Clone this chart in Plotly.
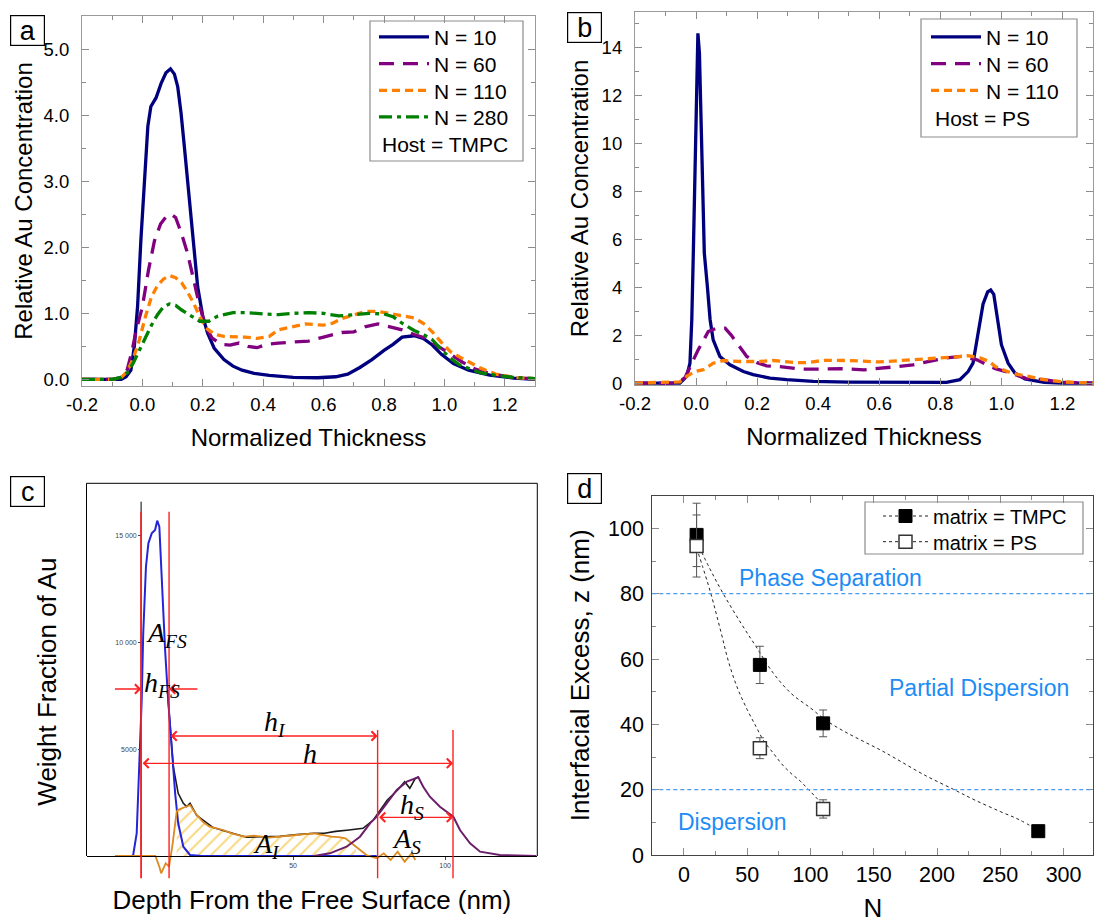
import plotly.graph_objects as go

W, H = 1094, 923
SANS = "Liberation Sans"
SERIF = "Liberation Serif"

# ---------------- Panel a : Host = TMPC ----------------
a_x10 = [-0.2, -0.07, -0.054, -0.038, -0.027, -0.016, -0.005, 0.007, 0.018, 0.028, 0.045, 0.062, 0.078, 0.093,
         0.106, 0.117, 0.128, 0.139, 0.15, 0.161, 0.172, 0.183, 0.2, 0.216, 0.238, 0.27, 0.3, 0.33, 0.37, 0.42,
         0.5, 0.58, 0.64, 0.68, 0.72, 0.76, 0.8, 0.83, 0.86, 0.9, 0.93, 0.96, 0.99, 1.03, 1.08, 1.15, 1.23, 1.3]
a_y10 = [0, 0, 0.04, 0.14, 0.49, 1.1, 2.11, 3.02, 3.83, 4.13, 4.26, 4.48, 4.64, 4.70,
         4.62, 4.43, 4.03, 3.52, 2.97, 2.41, 1.86, 1.40, 0.95, 0.70, 0.47, 0.3, 0.2, 0.14, 0.09, 0.06,
         0.03, 0.025, 0.04, 0.08, 0.18, 0.3, 0.44, 0.53, 0.64, 0.66, 0.62, 0.52, 0.38, 0.24, 0.14, 0.065, 0.02, 0.0]
a_x60 = [-0.2, -0.1, -0.07, -0.05, -0.035, -0.02, 0.0, 0.02, 0.04, 0.06, 0.08, 0.095, 0.11, 0.13, 0.15, 0.17,
         0.19, 0.21, 0.23, 0.26, 0.29, 0.32, 0.35, 0.38, 0.41, 0.45, 0.5, 0.55, 0.6, 0.63, 0.66, 0.7, 0.74, 0.78,
         0.82, 0.86, 0.9, 0.94, 0.98, 1.02, 1.06, 1.1, 1.15, 1.2, 1.25, 1.3]
a_y60 = [0, 0, 0.03, 0.15, 0.42, 0.75, 1.1, 1.65, 2.1, 2.35, 2.47, 2.5, 2.45, 2.2, 1.9, 1.5,
         1.1, 0.8, 0.63, 0.53, 0.52, 0.55, 0.5, 0.48, 0.53, 0.55, 0.57, 0.58, 0.64, 0.68, 0.71, 0.72, 0.8, 0.84,
         0.8, 0.75, 0.68, 0.62, 0.5, 0.38, 0.26, 0.16, 0.09, 0.05, 0.02, 0.01]
a_x110 = [-0.2, -0.1, -0.07, -0.05, -0.03, -0.01, 0.01, 0.03, 0.05, 0.07, 0.09, 0.11, 0.13, 0.15, 0.17, 0.19,
          0.21, 0.24, 0.27, 0.3, 0.34, 0.38, 0.42, 0.45, 0.5, 0.54, 0.6, 0.63, 0.66, 0.7, 0.74, 0.78, 0.82, 0.86,
          0.9, 0.93, 0.96, 0.99, 1.02, 1.05, 1.08, 1.12, 1.17, 1.23, 1.3]
a_y110 = [0, 0, 0.03, 0.12, 0.32, 0.6, 0.95, 1.25, 1.42, 1.52, 1.57, 1.54, 1.46, 1.32, 1.15, 0.95,
          0.78, 0.68, 0.65, 0.65, 0.64, 0.62, 0.65, 0.75, 0.8, 0.84, 0.82, 0.85, 0.92, 0.98, 1.03, 1.03, 1.0, 0.97,
          0.93, 0.85, 0.72, 0.56, 0.42, 0.34, 0.27, 0.17, 0.08, 0.03, 0.01]
a_x280 = [-0.2, -0.1, -0.07, -0.05, -0.03, -0.01, 0.01, 0.03, 0.05, 0.07, 0.09, 0.11, 0.13, 0.16, 0.19, 0.22,
          0.25, 0.3, 0.35, 0.4, 0.45, 0.5, 0.55, 0.6, 0.65, 0.7, 0.75, 0.8, 0.83, 0.86, 0.9, 0.93, 0.96, 0.99,
          1.02, 1.05, 1.08, 1.12, 1.17, 1.23, 1.3]
a_y280 = [0, 0, 0.03, 0.1, 0.25, 0.45, 0.65, 0.82, 0.98, 1.1, 1.14, 1.12, 1.05, 0.96, 0.88, 0.88,
          0.96, 1.01, 1.01, 0.99, 0.98, 1.0, 1.01, 1.0, 0.96, 0.98, 1.0, 0.99, 0.95, 0.85, 0.74, 0.68, 0.6, 0.45,
          0.32, 0.22, 0.17, 0.1, 0.06, 0.03, 0.01]

# ---------------- Panel b : Host = PS ----------------
b_x10 = [-0.2, -0.053, -0.042, -0.031, -0.02, -0.014, -0.009, -0.004, 0.002, 0.006, 0.011, 0.018, 0.027, 0.037,
         0.046, 0.056, 0.078, 0.111, 0.155, 0.187, 0.242, 0.297, 0.384, 0.5, 0.602, 0.7, 0.82, 0.864, 0.891,
         0.907, 0.922, 0.94, 0.955, 0.965, 0.975, 0.988, 1.0, 1.022, 1.044, 1.077, 1.14, 1.2, 1.3]
b_y10 = [0, 0, 0.14, 0.28, 0.83, 2.64, 5.42, 8.9, 12.36, 14.58, 13.75, 9.58, 5.42, 4.03,
         2.64, 1.8, 1.11, 0.76, 0.48, 0.35, 0.21, 0.14, 0.07, 0.04, 0.03, 0.03, 0.03, 0.14, 0.48,
         0.83, 2.0, 3.3, 3.8, 3.88, 3.7, 2.6, 1.6, 0.83, 0.42, 0.17, 0.03, 0.0, 0.0]
b_x60 = [-0.2, -0.06, -0.036, -0.014, 0.007, 0.025, 0.04, 0.067, 0.095, 0.115, 0.138, 0.166, 0.2, 0.231, 0.275,
         0.34, 0.384, 0.44, 0.49, 0.55, 0.6, 0.66, 0.71, 0.766, 0.815, 0.87, 0.92, 0.98, 1.02, 1.08, 1.14, 1.2, 1.3]
b_y60 = [0, 0, 0.23, 0.83, 1.39, 1.8, 2.15, 2.29, 2.29, 2.0, 1.6, 1.11, 0.85, 0.72, 0.69,
         0.58, 0.58, 0.6, 0.6, 0.55, 0.6, 0.69, 0.76, 0.9, 1.04, 1.11, 0.97, 0.6, 0.46, 0.2, 0.14, 0.03, 0]
b_x110 = [-0.2, -0.053, -0.031, -0.004, 0.024, 0.056, 0.089, 0.144, 0.209, 0.253, 0.318, 0.36, 0.42, 0.5, 0.6,
          0.68, 0.74, 0.8, 0.86, 0.89, 0.93, 0.96, 0.98, 1.02, 1.05, 1.1, 1.14, 1.2, 1.3]
b_y110 = [0, 0.05, 0.28, 0.48, 0.56, 0.83, 0.94, 0.9, 0.9, 0.94, 0.86, 0.85, 0.95, 0.94, 0.88,
          0.94, 1.0, 1.04, 1.1, 1.14, 1.05, 0.9, 0.69, 0.48, 0.37, 0.25, 0.14, 0.05, 0]

# ---------------- Panel c : schematic profile (depth nm, weight) ----------------
c_blue_x = [-3, -2.6, -1.45, -0.6, 0.2, 0.7, 1.6, 2.4, 3.5, 4.6, 5.3, 6.0, 6.8, 7.9, 8.9, 10.1, 11.2, 12.2,
            13.9, 16.1, 20, 40, 60, 77.5]
c_blue_y = [0, 47, 1060, 4177, 7297, 10416, 13531, 14626, 15093, 15250, 15683, 15403, 12755, 9635, 7297, 4958,
            2931, 1529, 435, 47, 0, 0, 0, 0]
c_black_x = [8.9, 9.7, 10.6, 12.2, 13.9, 15.0, 16.1, 18.3, 23.7, 29.2, 34.7, 40, 45.7, 51.2, 56.9, 60.3, 64,
             68.4, 73, 76.4, 78.5, 81, 84.4, 86.7, 88.4, 90.2, 91.3]
c_black_y = [7297, 5753, 4177, 2931, 2463, 2307, 2463, 1900, 1330, 1100, 880, 900, 920, 1000, 1061, 1061, 1150,
             1216, 1294, 1684, 2100, 2620, 3087, 3476, 3165, 3632, 3710]
c_orange_x = [-8.6, 4.7, 6.0, 6.6, 8.1, 9.2, 10.4, 11.7, 12.1, 14.4, 16.1, 17.9, 20.2, 22.5, 27, 30, 33.9, 37,
              39.7, 42, 45.4, 48, 51.2, 54, 56.9, 60, 62.6, 65, 67.2, 70.7, 74.1, 77.5, 79.8, 82.1, 84.4, 86.7,
              89, 90.2]
c_orange_y = [0, 0, -500, -810, -343, -500, 593, 2073, 2151, 2307, 2385, 1996, 1606, 1373, 1216, 1050, 903, 950,
              903, 860, 903, 950, 982, 1020, 1061, 980, 903, 880, 826, 435, 47, -109, 125, -187, 203, -265,
              125, -187]
c_purple_x = [56.9, 62.1, 67.6, 72, 75.3, 77.5, 80.8, 84.1, 87.4, 91.2, 92.8, 95, 98.3, 101, 102.7, 104.9,
              108.2, 111.5, 114.8, 118, 130]
c_purple_y = [0, 125, 435, 903, 1529, 1838, 2463, 3087, 3476, 3681, 3242, 2774, 2307, 1996, 1838, 1216, 593,
              203, 125, 47, 0]
c_hatch_range = [11.0, 71.0]
c_bounds = [0.0, 9.2, 77.8, 102.6]          # h_FS / h_I / h_S limits (nm)
c_yticks = [5000, 10000, 15000]
c_yticktext = ["5000", "10 000", "15 000"]
c_xticks = [50, 100]

# ---------------- Panel d : interfacial excess ----------------
d_N_tmpc = [10, 60, 110, 280]
d_z_tmpc = [98.0, 58.2, 40.3, 7.3]
d_e_tmpc = [9.7, 5.7, 4.1, 0]
d_N_ps = [10, 60, 110]
d_z_ps = [94.6, 32.7, 14.1]
d_e_ps = [9.5, 3.2, 2.8]
d_fit_tmpc_N = [10, 20, 30.9, 45, 57, 70, 84.6, 100, 112, 125, 139.7, 155, 167, 190, 214, 230, 250, 265, 280]
d_fit_tmpc_z = [96, 88, 80.1, 71, 63.8, 56, 49.5, 45, 41.3, 38.2, 35.2, 32.2, 29.6, 24.5, 19.9, 16.8, 13.3, 10.8, 7.5]
d_fit_ps_N = [10, 15, 21.2, 29.5, 35, 41.9, 50, 57, 63, 70.8, 77, 84.6, 92, 98, 104, 110]
d_fit_ps_z = [94, 88, 80.1, 67.9, 59.5, 51.5, 44.5, 39.3, 35, 31.1, 28, 25, 22.6, 20.2, 17.8, 15.2]
d_regimes = [80, 20]


def fx(p):
    return p / W


def fy(p):
    return (H - p) / H


fig = go.Figure()

NAVY, PURP, ORNG, GRN = "#00007f", "#800080", "#ff8000", "#008000"
STY = {
    "N = 10": dict(color=NAVY, width=3.3),
    "N = 60": dict(color=PURP, width=3.3, dash="15px,9px"),
    "N = 110": dict(color=ORNG, width=3.3, dash="8px,5px"),
    "N = 280": dict(color=GRN, width=3.3, dash="13px,5px,4px,5px"),
}

# panel a traces (each entry gets its own single-item legend so rows can be spaced like the original)
for (nm, xs, ys, lg) in [("N = 10", a_x10, a_y10, "legend"), ("N = 60", a_x60, a_y60, "legend2"),
                         ("N = 110", a_x110, a_y110, "legend3"), ("N = 280", a_x280, a_y280, "legend4")]:
    fig.add_trace(go.Scatter(x=xs, y=ys, mode="lines", name=nm, legend=lg, line=STY[nm], xaxis="x", yaxis="y"))
# panel b traces
for (nm, xs, ys, lg) in [("N = 10", b_x10, b_y10, "legend5"), ("N = 60", b_x60, b_y60, "legend6"),
                         ("N = 110", b_x110, b_y110, "legend7")]:
    fig.add_trace(go.Scatter(x=xs, y=ys, mode="lines", name=nm, legend=lg, line=STY[nm], xaxis="x2", yaxis="y2"))

# panel c traces
hx = [x for x in c_orange_x if c_hatch_range[0] <= x <= c_hatch_range[1]]
hy = [y for x, y in zip(c_orange_x, c_orange_y) if c_hatch_range[0] <= x <= c_hatch_range[1]]
fig.add_trace(go.Scatter(x=hx, y=hy, mode="lines", fill="tozeroy", showlegend=False,
                         fillcolor="rgba(255,255,255,0)",
                         line=dict(width=0, color="rgba(255,255,255,0)"),
                         fillpattern=dict(shape="/", fgcolor="#f2b000", bgcolor="rgba(255,255,255,0)",
                                          size=9, solidity=0.22),
                         xaxis="x3", yaxis="y3"))
fig.add_trace(go.Scatter(x=c_black_x, y=c_black_y, mode="lines", showlegend=False,
                         line=dict(color="#1a1a1a", width=1.6), xaxis="x3", yaxis="y3"))
fig.add_trace(go.Scatter(x=c_blue_x, y=c_blue_y, mode="lines", showlegend=False,
                         line=dict(color="#2424d8", width=2), xaxis="x3", yaxis="y3"))
fig.add_trace(go.Scatter(x=c_orange_x, y=c_orange_y, mode="lines", showlegend=False,
                         line=dict(color="#dc8a22", width=1.8), xaxis="x3", yaxis="y3"))
fig.add_trace(go.Scatter(x=c_purple_x, y=c_purple_y, mode="lines", showlegend=False,
                         line=dict(color="#6b1f6b", width=2), xaxis="x3", yaxis="y3"))

# panel d traces
FIT = dict(color="#222", width=1, dash="3px,3px")
fig.add_trace(go.Scatter(x=d_fit_tmpc_N, y=d_fit_tmpc_z, mode="lines", showlegend=False, line_shape="spline",
                         line=FIT, xaxis="x4", yaxis="y4"))
fig.add_trace(go.Scatter(x=d_fit_ps_N, y=d_fit_ps_z, mode="lines", showlegend=False, line_shape="spline",
                         line=FIT, xaxis="x4", yaxis="y4"))
MK_T = dict(symbol="square", size=13, color="black", line=dict(color="black", width=1))
MK_P = dict(symbol="square", size=13, color="white", line=dict(color="#333", width=1.5))
fig.add_trace(go.Scatter(x=d_N_tmpc, y=d_z_tmpc, mode="markers", showlegend=False, marker=MK_T,
                         error_y=dict(type="data", array=d_e_tmpc, color="#555", thickness=1, width=4),
                         xaxis="x4", yaxis="y4"))
fig.add_trace(go.Scatter(x=d_N_ps, y=d_z_ps, mode="markers", showlegend=False, marker=MK_P,
                         error_y=dict(type="data", array=d_e_ps, color="#555", thickness=1, width=4),
                         xaxis="x4", yaxis="y4"))
fig.add_trace(go.Scatter(x=[None], y=[None], mode="lines+markers", name="matrix = TMPC", legend="legend8",
                         line=FIT, marker=MK_T, xaxis="x4", yaxis="y4"))
fig.add_trace(go.Scatter(x=[None], y=[None], mode="lines+markers", name="matrix = PS", legend="legend9",
                         line=FIT, marker=MK_P, xaxis="x4", yaxis="y4"))

TICKC = "#8c8c8c"
AXC = "#9a9a9a"


def std_axis(domain, rng, anchor, tickvals, ticktext, minor_dtick, tsize, title, tfont, standoff,
             lstand, linecolor=AXC):
    return dict(domain=domain, range=rng, anchor=anchor, tickvals=tickvals, ticktext=ticktext,
                automargin=False,
                ticks="inside", ticklen=7, tickwidth=1, tickcolor=TICKC,
                minor=dict(dtick=minor_dtick, tick0=0, ticks="inside", ticklen=4, tickcolor=TICKC),
                showline=True, linecolor=linecolor, linewidth=1.2, mirror="allticks",
                showgrid=False, zeroline=False, tickfont=dict(family=SANS, size=tsize, color="black"),
                ticklabelstandoff=lstand,
                title=dict(text=title, font=dict(family=SANS, size=tfont, color="black"), standoff=standoff))


ax_ticks = [-0.2, 0.0, 0.2, 0.4, 0.6, 0.8, 1.0, 1.2]
ax_text = ["-0.2", "0.0", "0.2", "0.4", "0.6", "0.8", "1.0", "1.2"]

c_yr = [-1122.5, 17432]
c_xr = [-17.96, 130.33]


def leg(xl, yc, size):
    return dict(x=fx(xl), y=fy(yc), xanchor="left", yanchor="middle", bgcolor="rgba(0,0,0,0)",
                borderwidth=0, font=dict(family=SANS, size=size, color="black"), itemwidth=50)


layout = dict(
    width=W, height=H, margin=dict(l=0, r=0, t=0, b=0, autoexpand=False),
    paper_bgcolor="white", plot_bgcolor="white",
    font=dict(family=SANS, color="black"),
    xaxis=std_axis([fx(82), fx(535)], [-0.2, 1.3], "y", ax_ticks, ax_text, 0.1, 18.5,
                   "Normalized Thickness", 24, 14, 2),
    yaxis=std_axis([fy(386), fy(16)], [-0.1, 5.5], "x", [0, 1, 2, 3, 4, 5],
                   ["0.0", "1.0", "2.0", "3.0", "4.0", "5.0"], 0.5, 18.5,
                   "Relative Au Concentration", 24, 4, 8),
    xaxis2=std_axis([fx(635), fx(1093)], [-0.2, 1.3], "y2", ax_ticks, ax_text, 0.1, 18.5,
                    "Normalized Thickness", 24, 14, 2),
    yaxis2=std_axis([fy(385), fy(12)], [-0.08, 15.47], "x2", [0, 2, 4, 6, 8, 10, 12, 14],
                    ["0", "2", "4", "6", "8", "10", "12", "14"], 1, 18.5,
                    "Relative Au Concentration", 24, 6, 8),
    xaxis3=dict(domain=[fx(86.5), fx(537.3)], range=c_xr, anchor="free", position=fy(856), automargin=False,
                tickvals=c_xticks, ticks="outside", ticklen=3, tickcolor="#444",
                showline=True, linecolor="black", linewidth=1, showgrid=False, zeroline=False,
                tickfont=dict(family=SANS, size=7, color="#444"),
                title=dict(text="Depth From the Free Surface (nm)", font=dict(family=SANS, size=26),
                           standoff=22)),
    yaxis3=dict(domain=[fy(880), fy(483.3)], range=c_yr, anchor="free", position=fx(141.1), automargin=False,
                tickvals=c_yticks, ticktext=c_yticktext, ticks="outside", ticklen=3, tickcolor="#444",
                showline=False, showgrid=False, zeroline=False,
                tickfont=dict(family=SANS, size=7, color="#444"),
                title=dict(text="Weight Fraction of Au", font=dict(family=SANS, size=26), standoff=50)),
    xaxis4=std_axis([fx(652.3), 0.9995], [-25, 323.6], "y4", [0, 50, 100, 150, 200, 250, 300],
                    ["0", "50", "100", "150", "200", "250", "300"], 25, 21.5, "N", 26, 25, 0, linecolor="#444"),
    yaxis4=std_axis([fy(855), fy(495.7)], [0, 110], "x4", [0, 20, 40, 60, 80, 100],
                    ["0", "20", "40", "60", "80", "100"], 10, 21.5,
                    "Interfacial Excess, z (nm)", 26, 10, 3, linecolor="#444"),
    legend=leg(374, 37.3, 21),
    legend2=leg(374, 64, 21),
    legend3=leg(374, 90.7, 21),
    legend4=leg(374, 117.3, 21),
    legend5=leg(926, 37.3, 21),
    legend6=leg(926, 64, 21),
    legend7=leg(926, 90.7, 21),
    legend8=dict(leg(878, 516, 20), itemwidth=45),
    legend9=dict(leg(878, 541.7, 20), itemwidth=45),
)
fig.update_layout(**layout)

shapes = []
# legend frames
for (x0, x1, y0, y1) in [(370, 523, 21, 161), (921, 1077, 19, 137), (865, 1083, 502, 554)]:
    shapes.append(dict(type="rect", xref="paper", yref="paper", x0=fx(x0), x1=fx(x1), y0=fy(y1), y1=fy(y0),
                       line=dict(color="#8c8c8c", width=1.2), fillcolor="rgba(0,0,0,0)"))
# panel c frame (left, top, right) above the zero line
f0 = (0 - c_yr[0]) / (c_yr[1] - c_yr[0])
for (x0, y0, x1, y1) in [(0, f0, 0, 1), (0, 1, 1, 1), (1, 1, 1, f0)]:
    shapes.append(dict(type="line", xref="x3 domain", yref="y3 domain", x0=x0, y0=y0, x1=x1, y1=y1,
                       line=dict(color="black", width=1)))
# panel c inner y-axis line
shapes.append(dict(type="line", xref="x3", yref="y3", x0=0, x1=0, y0=0, y1=16572,
                   line=dict(color="black", width=1)))
# red boundary lines
RED = "#ff2020"
for i, xb in enumerate(c_bounds):
    top = 16104 if i < 2 else 5893
    shapes.append(dict(type="line", xref="x3", yref="y3", x0=xb, x1=xb, y0=-1043, y1=top,
                       line=dict(color=RED, width=1.8 if i == 0 else 1.4)))
# regime boundaries in d
for v in d_regimes:
    shapes.append(dict(type="line", xref="x4 domain", yref="y4", x0=0, x1=1, y0=v, y1=v,
                       line=dict(color="#4a9cf0", width=1.2, dash="4px,3px")))
fig.update_layout(shapes=shapes)

ann = []
# panel letters
for letter, cx, cy in [("a", 27.2, 30.8), ("b", 584, 28), ("c", 27.2, 491.5), ("d", 584, 488.7)]:
    ann.append(dict(text=letter, x=fx(cx), y=fy(cy), xref="paper", yref="paper", showarrow=False,
                    xanchor="center", yanchor="middle", width=33, height=29, bordercolor="black",
                    borderwidth=1.2, borderpad=0, font=dict(family=SANS, size=27, color="black")))
# host labels
ann.append(dict(text="Host = TMPC", x=fx(380), y=fy(144), xref="paper", yref="paper", showarrow=False,
                xanchor="left", yanchor="middle", font=dict(family=SANS, size=21)))
ann.append(dict(text="Host = PS", x=fx(932.6), y=fy(118.3), xref="paper", yref="paper", showarrow=False,
                xanchor="left", yanchor="middle", font=dict(family=SANS, size=21)))
# regime labels in d
BLUE_T = "#1e8cf5"
for txt, xx, yy in [("Phase Separation", 116, 84.7), ("Partial Dispersion", 233, 51), ("Dispersion", 38, 10)]:
    ann.append(dict(text=txt, x=xx, y=yy, xref="x4", yref="y4", showarrow=False,
                    font=dict(family=SANS, size=23, color=BLUE_T)))


# panel c arrows
def arrow(xt, xh, y, both):
    return dict(x=xh, y=y, ax=xt, ay=y, xref="x3", yref="y3", axref="x3", ayref="y3", text="",
                showarrow=True, arrowhead=4, startarrowhead=4, arrowside="end+start" if both else "end",
                arrowsize=1.4, startarrowsize=1.4, arrowwidth=1.3, arrowcolor=RED, standoff=0, startstandoff=0)


ann.append(arrow(-9.1, c_bounds[0], 7811, False))
ann.append(arrow(19.0, c_bounds[1], 7811, False))
ann.append(arrow(c_bounds[1], c_bounds[2], 5613, True))
ann.append(arrow(c_bounds[0], c_bounds[3], 4336, True))
ann.append(arrow(c_bounds[2], c_bounds[3], 1810, True))


def lab(main, sub, x, y, xanchor="center"):
    t = "<i>%s</i>" % main + ("<sub><i>%s</i></sub>" % sub if sub else "")
    return dict(text=t, x=x, y=y, xref="x3", yref="y3", showarrow=False, xanchor=xanchor, yanchor="middle",
                font=dict(family=SERIF, size=28, color="black"))


ann.append(lab("A", "FS", 0.8, 10337, "left"))
ann.append(lab("h", "FS", 0.4, 8000, "left"))
ann.append(lab("h", "I", 44.2, 6207))
ann.append(lab("h", "", 55.7, 4817))
ann.append(lab("h", "S", 89.0, 2306))
ann.append(lab("A", "I", 41.4, 514))
ann.append(lab("A", "S", 87.3, 748))
fig.update_layout(annotations=ann)

fig.write_html("out.html")
